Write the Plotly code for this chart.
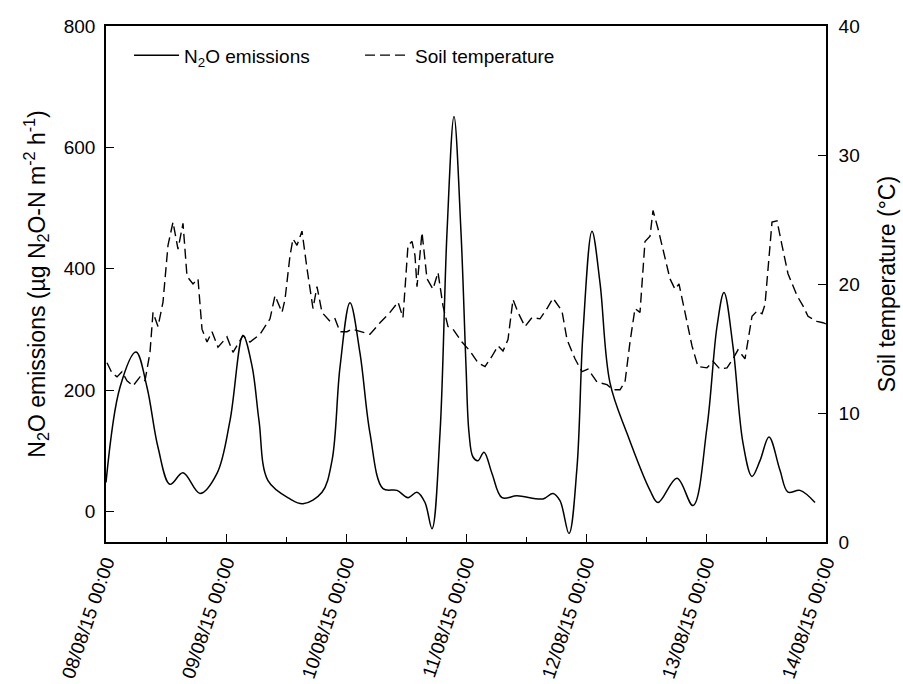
import pandas as pd
import plotly.graph_objects as go

# Start of the measurement campaign
start = pd.Timestamp("2015-08-08 00:00")

# N2O flux: hours since start and emission (µg N2O-N m-2 h-1)
n2o_hours = [0.0, 2.8, 6.0, 8.2, 10.4, 12.8, 15.4, 18.8, 22.2, 24.8, 27.4, 29.2, 30.6,
             32.4, 36.8, 39.4, 43.2, 45.2, 46.8, 48.8, 50.8, 52.8, 55.4, 58.2,
             60.4, 62.2, 63.8, 65.2, 66.8, 68.2, 69.6, 71.0, 72.0, 72.6, 73.4,
             74.4, 75.6, 77.2, 79.2, 82.2, 87.4, 89.4, 90.8, 92.6, 94.2, 95.4,
             97.2, 98.8, 100.8, 104.2, 108.8, 110.4, 114.2, 117.4, 120.2, 122.2,
             123.6, 125.4, 127.4, 129.2, 130.8, 132.6, 134.8, 136.4, 138.8, 141.8]
n2o_flux = [48, 205, 263, 205, 106, 45, 64, 30, 63, 150, 290, 240, 150,
            51, 21, 13, 32, 84, 238, 344, 261, 129, 38, 35,
            23, 32, 15, -28, 129, 460, 651, 460, 240, 130, 90,
            84, 98, 63, 23, 26, 21, 30, 18, -36, 73, 295,
            462, 377, 212, 129, 35, 15, 55, 10, 139, 305,
            361, 272, 113, 58, 84, 123, 68, 32, 35, 15]

# Soil temperature: hours since start and temperature (°C)
temp_hours = [0.2, 1.2, 2.2, 3.2, 4.2, 5.4, 6.8, 7.8, 8.8, 9.4, 10.4, 11.4, 12.4,
              13.4, 14.4, 15.4, 16.2, 17.4, 18.4, 19.2, 20.2, 21.2, 22.4, 24.2,
              25.4, 27.4, 28.8, 30.8, 32.8, 33.8, 35.2, 35.8, 36.8, 37.4, 38.2,
              39.2, 40.2, 41.4, 42.2, 43.2, 44.8, 45.8, 46.8, 48.2, 49.2, 50.8,
              52.8, 54.8, 56.8, 58.4, 59.4, 60.4, 61.2, 61.8, 62.2, 63.2, 64.2,
              65.4, 66.4, 67.4, 68.4, 69.4, 71.2, 72.8, 74.4, 75.8, 77.2, 78.4,
              79.4, 80.4, 81.4, 82.4, 83.8, 85.2, 86.8, 88.2, 89.4, 91.2, 92.2,
              93.8, 95.2, 96.4, 98.2, 100.2, 101.4, 102.8, 103.8, 104.8, 105.8,
              106.8, 107.8, 108.8, 109.4, 110.4, 111.4, 112.8, 113.8, 114.6,
              115.8, 117.2, 118.4, 120.2, 121.4, 122.8, 124.2, 125.4, 126.4,
              127.8, 129.2, 130.2, 131.2, 131.8, 133.2, 134.2, 135.2, 136.4,
              138.2, 139.4, 140.4, 142.2, 143.4, 144.0]
soil_temp = [13.9, 13.1, 12.8, 13.2, 12.5, 12.1, 12.8, 12.5, 14.7, 17.8, 16.7, 18.6, 23.0,
             24.8, 22.7, 24.7, 20.6, 20.0, 20.4, 16.5, 15.5, 16.3, 15.1, 15.9,
             14.7, 16.0, 15.5, 16.1, 17.3, 19.1, 17.8, 18.8, 22.2, 23.5, 23.0,
             24.1, 21.2, 18.1, 19.8, 17.8, 17.1, 17.3, 16.3, 16.3, 16.5, 16.3,
             16.1, 17.0, 17.8, 18.6, 17.4, 23.0, 23.3, 22.2, 19.8, 24.0, 20.4,
             19.6, 20.9, 18.3, 16.7, 16.5, 15.5, 14.8, 13.9, 13.6, 14.4, 15.2,
             14.8, 15.7, 18.8, 17.8, 16.7, 17.4, 17.3, 18.1, 18.9, 17.9, 15.7,
             14.2, 13.2, 13.4, 12.4, 12.2, 11.8, 11.8, 12.4, 15.5, 18.1,
             17.8, 23.3, 23.7, 25.7, 24.3, 22.7, 20.4, 19.6, 20.0,
             17.8, 15.2, 13.6, 13.5, 14.0, 13.4, 13.5, 14.2, 14.9,
             14.2, 17.5, 17.9, 17.7, 18.4, 24.8, 24.9, 23.0, 20.8,
             19.1, 18.3, 17.5, 17.1, 17.0, 16.9]

# Daily tick positions
tick_days = pd.date_range("2015-08-08", "2015-08-14", freq="D")
tick_text = [d.strftime("%d/%m/%y %H:%M") for d in tick_days]

n2o_time = [start + pd.Timedelta(hours=h) for h in n2o_hours]
temp_time = [start + pd.Timedelta(hours=h) for h in temp_hours]

font_family = "Arial, Liberation Sans, sans-serif"

fig = go.Figure()
fig.add_trace(go.Scatter(
    x=n2o_time, y=n2o_flux, mode="lines", name="N<sub>2</sub>O emissions",
    line=dict(color="black", width=1.5, shape="spline", smoothing=1.0),
))
fig.add_trace(go.Scatter(
    x=temp_time, y=soil_temp, mode="lines", name="Soil temperature", yaxis="y2",
    line=dict(color="black", width=1.4, dash="10px,5px"),
))

fig.update_layout(
    width=903, height=684,
    margin=dict(l=106, r=77, t=26, b=142),
    paper_bgcolor="white", plot_bgcolor="white",
    font=dict(family=font_family, size=19, color="black"),
    showlegend=True,
    legend=dict(
        orientation="h", x=0.032, y=0.98, xanchor="left", yanchor="top",
        bgcolor="rgba(0,0,0,0)", font=dict(size=19), itemwidth=45,
        entrywidth=171, traceorder="normal",
    ),
    xaxis=dict(
        range=[tick_days[0], tick_days[-1]], automargin=False,
        tickmode="array", tickvals=list(tick_days), ticktext=tick_text,
        tickangle=-71, ticks="inside", ticklen=8, tickwidth=1.3,
        tickcolor="black", showline=True, linecolor="black", linewidth=1.6,
        mirror=True, showgrid=False, zeroline=False,
        tickfont=dict(size=19),
        minor=dict(ticks="inside", ticklen=5, tickwidth=1.2, tickcolor="black",
                   dtick=12 * 3600 * 1000, tick0=tick_days[0], showgrid=False),
    ),
    yaxis=dict(
        range=[-50, 800], tickvals=[0, 200, 400, 600, 800], automargin=False,
        ticks="inside", ticklen=8, tickwidth=1.2, tickcolor="black",
        showline=True, linecolor="black", linewidth=1.6,
        showgrid=False, zeroline=False, tickfont=dict(size=19),
        ticklabelstandoff=5,
        title=dict(text="N<sub>2</sub>O emissions (µg N<sub>2</sub>O-N m<sup>-2</sup> h<sup>-1</sup>)",
                   font=dict(size=23), standoff=12),
    ),
    yaxis2=dict(
        overlaying="y", side="right", automargin=False,
        range=[0, 40], tickvals=[0, 10, 20, 30, 40],
        ticks="inside", ticklen=8, tickwidth=1.2, tickcolor="black",
        showline=True, linecolor="black", linewidth=1.6,
        showgrid=False, zeroline=False, tickfont=dict(size=19),
        ticklabelstandoff=7,
        title=dict(text="Soil temperature (°C)", font=dict(size=23), standoff=20),
    ),
)

fig.write_html("out.html")
